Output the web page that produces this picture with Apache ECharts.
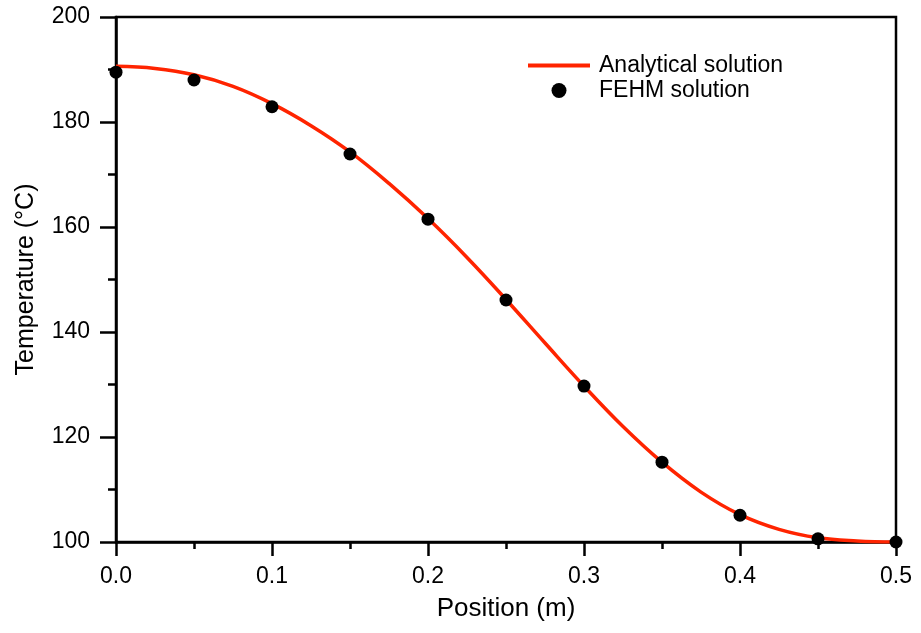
<!DOCTYPE html>
<html>
<head>
<meta charset="utf-8">
<script src="https://cdn.jsdelivr.net/npm/echarts@6/dist/echarts.min.js"></script>
<style>html,body{margin:0;padding:0;background:#fff;}#c{width:921px;height:633px;}</style>
</head>
<body>
<div id="c"></div>
<script>
// Analytical solution
const analyticX = [0, 0.025, 0.05, 0.075, 0.1, 0.125, 0.15, 0.175, 0.2, 0.225, 0.25, 0.275, 0.3, 0.325, 0.35, 0.375, 0.4, 0.425, 0.45, 0.475, 0.5];
const analyticT = [190.6, 190.2, 189.0, 186.8, 183.5, 179.3, 174.3, 168.3, 161.6, 154.2, 146.2, 137.9, 129.7, 122.0, 115.2, 109.5, 105.2, 102.4, 100.8, 100.2, 100.0];
// FEHM solution points
const fehmX = [0, 0.05, 0.1, 0.15, 0.2, 0.25, 0.3, 0.35, 0.4, 0.45, 0.5];
const fehmT = [189.5, 188.0, 182.9, 173.9, 161.5, 146.1, 129.7, 115.2, 105.1, 100.6, 100.0];

const FONT = '"Liberation Sans", Arial, Helvetica, sans-serif';
const RED = '#ff2400';
const chart = echarts.init(document.getElementById('c'));
chart.setOption({
  animation: false,
  backgroundColor: '#fff',
  textStyle: { fontFamily: FONT, color: '#000' },
  grid: { left: 116, right: 25, top: 17, bottom: 91, show: true, borderColor: '#000', borderWidth: 2.5, backgroundColor: 'transparent' },
  legend: {
    left: 526, top: 54, padding: 0, orient: 'vertical', itemWidth: 62, itemHeight: 15, itemGap: 2,
    lineStyle: { width: 4 },
    textStyle: { fontFamily: FONT, fontSize: 23, color: '#000', padding: [0, 0, 0, 4] },
    data: [
      { name: 'Analytical solution', itemStyle: { opacity: 0 } },
      { name: 'FEHM solution', icon: 'circle' }
    ]
  },
  xAxis: {
    type: 'value', min: 0, max: 0.5, interval: 0.1,
    name: 'Position (m)', nameLocation: 'middle', nameGap: 54,
    nameTextStyle: { fontFamily: FONT, fontSize: 26, color: '#000' },
    axisLine: { show: true, lineStyle: { color: '#000', width: 2.5 } },
    axisTick: { show: true, inside: false, length: 14, lineStyle: { color: '#000', width: 2.5 } },
    minorTick: { show: true, splitNumber: 2, length: 7, lineStyle: { color: '#000', width: 2.5 } },
    axisLabel: { show: true, fontFamily: FONT, fontSize: 23, color: '#000', margin: 23, formatter: v => v.toFixed(1) },
    splitLine: { show: false }
  },
  yAxis: {
    type: 'value', min: 100, max: 200, interval: 20,
    name: 'Temperature (°C)', nameLocation: 'middle', nameGap: 77, nameRotate: 90,
    nameTextStyle: { fontFamily: FONT, fontSize: 25, color: '#000' },
    axisLine: { show: true, lineStyle: { color: '#000', width: 2.5 } },
    axisTick: { show: true, inside: false, length: 16, lineStyle: { color: '#000', width: 2.5 } },
    minorTick: { show: true, splitNumber: 2, length: 8, lineStyle: { color: '#000', width: 2.5 } },
    axisLabel: { show: true, fontFamily: FONT, fontSize: 23, color: '#000', margin: 26 },
    splitLine: { show: false }
  },
  series: [
    {
      name: 'Analytical solution', type: 'line', smooth: 0.4, showSymbol: false, symbol: 'none',
      data: analyticX.map((x, i) => [x, analyticT[i]]),
      lineStyle: { color: RED, width: 3.5 }, itemStyle: { color: RED }, z: 2
    },
    {
      name: 'FEHM solution', type: 'scatter', symbol: 'circle', symbolSize: 13,
      data: fehmX.map((x, i) => [x, fehmT[i]]),
      itemStyle: { color: '#000', opacity: 1 }, z: 3
    }
  ]
});
</script>
</body>
</html>
